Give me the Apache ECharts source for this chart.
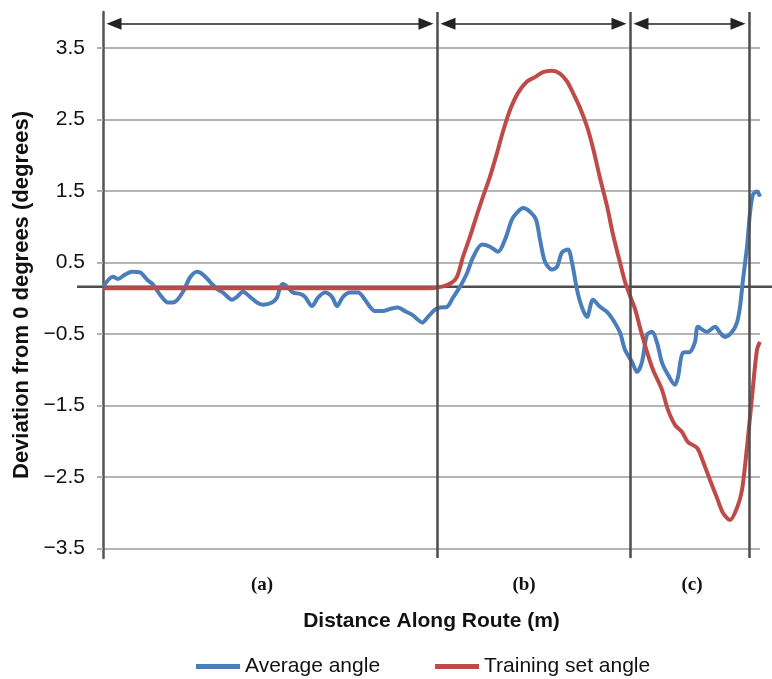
<!DOCTYPE html>
<html><head><meta charset="utf-8">
<script src="https://cdn.jsdelivr.net/npm/echarts@6/dist/echarts.min.js"></script>
<style>html,body{margin:0;padding:0;background:#fff}#c{width:772px;height:679px}</style>
</head><body><div id="c"></div>
<script>
// ---- data ----
const yTicks = [-3.5, -2.5, -1.5, -0.5, 0.5, 1.5, 2.5, 3.5];
const regionBounds = [0, 334, 527, 646];
const regionLabels = ['(a)', '(b)', '(c)'];
const regionLabelPos = [159, 421, 589];
const baselineValue = 0.16;
const arrowLevel = 3.835;
const seriesNames = ['Average angle', 'Training set angle'];

const blueDist = [0,10,15,22,29,37,44,50,57,65,72,80,87,94,100,107,114,120,129,134,140,147,154,160,169,174,177,180,185,190,197,202,209,215,222,229,234,240,247,255,262,267,272,280,287,295,302,309,315,319,325,332,337,344,350,357,364,370,379,387,395,402,409,415,420,427,433,437,442,449,454,459,465,469,474,479,484,490,497,504,510,517,522,529,534,539,544,549,554,559,565,572,575,580,587,592,595,604,612,617,622,629,634,637,640,644,647,650,654,657];
const blueVal = [0.16,0.30,0.27,0.33,0.37,0.36,0.26,0.19,0.05,-0.06,-0.05,0.09,0.29,0.37,0.33,0.23,0.13,0.08,-0.02,0.02,0.09,0.02,-0.06,-0.09,-0.06,0.01,0.15,0.20,0.15,0.08,0.06,0.02,-0.11,0.01,0.08,0.02,-0.11,0.02,0.08,0.08,-0.02,-0.12,-0.18,-0.18,-0.15,-0.13,-0.18,-0.23,-0.30,-0.34,-0.26,-0.16,-0.13,-0.12,0.01,0.16,0.35,0.57,0.75,0.72,0.65,0.82,1.10,1.21,1.26,1.21,1.10,0.82,0.51,0.40,0.44,0.64,0.68,0.50,0.12,-0.13,-0.26,-0.02,-0.12,-0.19,-0.30,-0.48,-0.72,-0.89,-1.03,-0.89,-0.51,-0.47,-0.62,-0.90,-1.07,-1.21,-1.10,-0.76,-0.75,-0.61,-0.40,-0.47,-0.40,-0.48,-0.54,-0.47,-0.34,-0.12,0.26,0.72,1.19,1.45,1.49,1.42];

const redDist = [0,100,200,327,340,349,354,360,367,374,380,387,394,400,407,415,424,432,440,449,457,464,470,477,484,490,497,504,510,517,522,527,532,537,544,550,559,565,572,579,585,594,600,607,614,620,627,634,639,644,649,654,657];
const redVal = [0.14,0.14,0.14,0.14,0.165,0.22,0.30,0.58,0.86,1.17,1.42,1.70,2.03,2.33,2.63,2.87,3.03,3.09,3.16,3.18,3.14,3.03,2.87,2.66,2.40,2.10,1.68,1.29,0.89,0.50,0.23,0.035,-0.15,-0.41,-0.75,-1.00,-1.28,-1.56,-1.77,-1.87,-2.01,-2.09,-2.28,-2.54,-2.79,-3.00,-3.10,-2.93,-2.68,-2.08,-1.38,-0.72,-0.61];

// ---- chart ----
const chart = echarts.init(document.getElementById('c'), null, { renderer: 'canvas' });
const FONT = "'Liberation Sans', Arial, Helvetica, sans-serif";
const SERIF = "'Liberation Serif', 'Times New Roman', serif";
const zip = (xs, ys) => xs.map((x, i) => [x, ys[i]]);
const fmtY = v => (v < 0 ? '\u2212' : '') + Math.abs(v).toFixed(1);

const arrowHead = 15, arrowGap = 3.5;
const arrowData = [];
for (let i = 0; i < regionBounds.length - 1; i++) {
  arrowData.push([
    { coord: [regionBounds[i] + arrowGap + arrowHead / 2, arrowLevel] },
    { coord: [regionBounds[i + 1] - arrowGap - arrowHead / 2, arrowLevel] }
  ]);
}

const option = {
  animation: false,
  backgroundColor: '#fff',
  grid: { left: 103, right: 12, top: 12, bottom: 121, containLabel: false },
  xAxis: {
    type: 'value', min: 0, max: 657,
    axisLine: { show: false }, axisTick: { show: false }, splitLine: { show: false },
    axisLabel: {
      customValues: regionLabelPos,
      formatter: v => { const i = regionLabelPos.indexOf(v); return i >= 0 ? regionLabels[i] : ''; },
      margin: 18, fontFamily: SERIF, fontWeight: 'bold', fontSize: 19, color: '#111'
    },
    name: 'Distance Along Route (m)', nameLocation: 'middle', nameGap: 53,
    nameTextStyle: { fontFamily: FONT, fontWeight: 'bold', fontSize: 21, color: '#111' }
  },
  yAxis: {
    type: 'value', min: -3.63, max: 4.0,
    axisLine: { show: true, lineStyle: { color: '#555', width: 2.5 } },
    axisTick: { show: true, customValues: yTicks, length: 6, lineStyle: { color: '#b0b0b0', width: 2 } },
    axisLabel: { customValues: yTicks, formatter: fmtY, margin: 18, fontFamily: FONT, fontSize: 21, color: '#111' },
    splitLine: { show: true, lineStyle: { color: '#b4b4b4', width: 2 } },
    name: 'Deviation from 0 degrees (degrees)', nameLocation: 'middle', nameGap: 70, nameRotate: 90,
    nameTextStyle: { fontFamily: FONT, fontWeight: 'bold', fontSize: 22, color: '#111', padding: [0, 20, 0, 0] }
  },
  legend: {
    data: seriesNames, left: 191, top: 651, icon: 'rect', itemWidth: 44, itemHeight: 5, itemGap: 55,
    textStyle: { fontFamily: FONT, fontSize: 21, color: '#111' }
  },
  series: [
    { name: seriesNames[0], type: 'line', data: zip(blueDist, blueVal), symbol: 'none', showSymbol: false,
      smooth: 0.3, lineStyle: { color: '#4a7ebb', width: 4 }, itemStyle: { color: '#4a7ebb' }, z: 3 },
    { name: seriesNames[1], type: 'line', data: zip(redDist, redVal), symbol: 'none', showSymbol: false,
      smooth: 0.3, lineStyle: { color: '#be4b48', width: 4 }, itemStyle: { color: '#be4b48' }, z: 4 },
    { name: 'regions', type: 'line', data: [], z: 2,
      markLine: { silent: true, symbol: 'none', label: { show: false }, animation: false,
        lineStyle: { color: '#4d4d4d', width: 2.5, type: 'solid' },
        data: regionBounds.slice(1).map(v => ({ xAxis: v })) } },
    { name: 'arrows', type: 'line', data: [], z: 2,
      markLine: { silent: true, symbol: ['triangle', 'triangle'], symbolSize: [12, 15], label: { show: false }, animation: false,
        lineStyle: { color: '#222', width: 1.5, type: 'solid' },
        data: arrowData } }
  ]
};
chart.setOption(option);

const yPix = chart.convertToPixel({ yAxisIndex: 0 }, baselineValue);
const xLeft = chart.convertToPixel({ xAxisIndex: 0 }, 0) - 26;
chart.setOption({
  graphic: [{ type: 'line', silent: true, z: 1,
    shape: { x1: xLeft, y1: yPix, x2: chart.getWidth(), y2: yPix },
    style: { stroke: '#4d4d4d', lineWidth: 2.5 } }]
});
</script></body></html>
